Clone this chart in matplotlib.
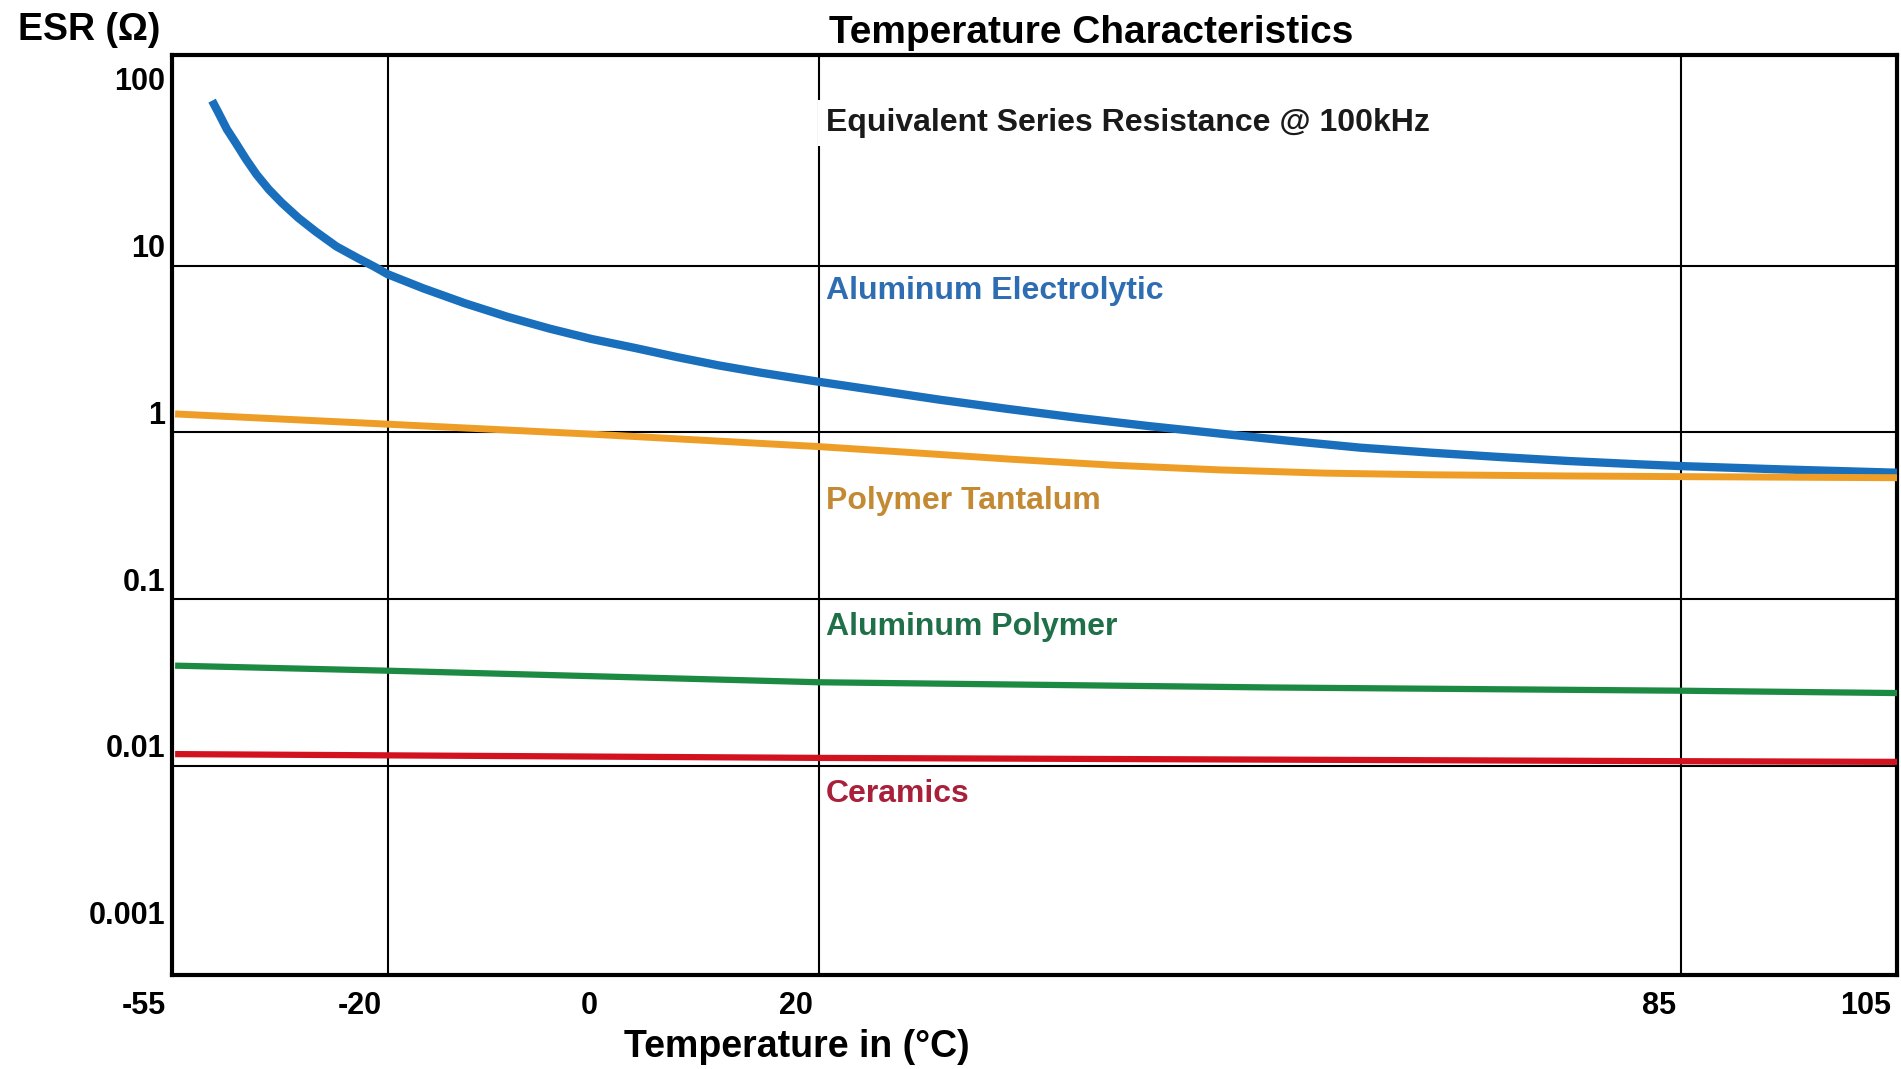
import numpy as np
import matplotlib.pyplot as plt
from matplotlib.transforms import ScaledTranslation

plt.rcParams['font.family'] = ['Liberation Sans', 'DejaVu Sans']

fig_name = "out.png"

##################### DATA #####################
# temperature axis of the original is piecewise: -55..20 evenly, 20..85 stretched
scale_temps = [-55, -20, 0, 20, 85, 105]
scale_steps = [0, 1, 2, 3, 7, 8]

x_ticks = [-55, -20, 0, 20, 85, 105]
x_ticklabels = ['-55', '-20', '0', '20', '85', '105']
y_ticks = [100, 10, 1, 0.1, 0.01, 0.001]
y_ticklabels = ['100', '10', '1', '0.1', '0.01', '0.001']
x_grid = [-20, 20, 85]
y_grid = [10, 1, 0.1, 0.01]

al_elec_temp = [-48.5, -47.5, -46.1, -44.7, -43.0, -41.3, -39.3, -37.2, -34.5, -31.7, -28.3,
                -24.9, -22.2, -20, -16.7, -12.8, -8.9, -5.0, -1.1, 2.9, 6.8, 10.7, 14.6, 20,
                29.1, 34.3, 39.6, 44.9, 50.2, 55.5, 60.8, 66.1, 71.3, 76.6, 81.9, 85, 94.3, 105]
al_elec_esr = [97.3, 82.8, 65.6, 54.6, 43.4, 35.2, 28.6, 23.8, 19.3, 16.0, 13.0,
               11.1, 9.86, 8.87, 7.30, 5.93, 4.93, 4.19, 3.63, 3.21, 2.83, 2.52, 2.28, 2.01,
               1.57, 1.38, 1.22, 1.09, 0.984, 0.889, 0.810, 0.756, 0.712, 0.673, 0.643, 0.628,
               0.600, 0.573]

tantalum_temp = [-54.5, -20, -1, 20, 26.4, 34.3, 42.3, 50.2, 58.1, 66.1, 76.6, 85, 105]
tantalum_esr = [1.29, 1.12, 0.975, 0.822, 0.762, 0.692, 0.635, 0.596, 0.570, 0.557, 0.548,
                0.543, 0.535]

al_poly_temp = [-54.5, -20, 20, 54, 85, 105]
al_poly_esr = [0.040, 0.0373, 0.0318, 0.0296, 0.0283, 0.0274]

ceramic_temp = [-54.5, 20, 85, 105]
ceramic_esr = [0.0118, 0.0112, 0.0107, 0.0106]

series_labels = ['Aluminum Electrolytic', 'Polymer Tantalum', 'Aluminum Polymer', 'Ceramics']

########################### PLOT CONFIGURATION ###########################
fig = plt.figure(figsize=(19.01, 10.69), dpi=100)
ax = fig.add_axes([0.0905, 0.0884, 0.9074, 0.8605])

fwd = lambda t: np.interp(t, scale_temps, scale_steps)
inv = lambda s: np.interp(s, scale_steps, scale_temps)
ax.set_xscale('function', functions=(fwd, inv))
ax.set_yscale('log')
ax.set_xlim(-55, 105)
ax.set_ylim(10**-3.249, 10**2.264)

for g in x_grid:
    ax.axvline(g, color='black', lw=1.5, zorder=1)
for g in y_grid:
    ax.axhline(g, color='black', lw=1.5, zorder=1)

ax.plot(al_elec_temp, al_elec_esr, color='#1a6fbd', lw=6, solid_capstyle='butt',
        solid_joinstyle='round', zorder=3)
ax.plot(tantalum_temp, tantalum_esr, color='#ee9e26', lw=5, solid_capstyle='butt',
        solid_joinstyle='round', zorder=3)
ax.plot(al_poly_temp, al_poly_esr, color='#1d8a43', lw=4.5, solid_capstyle='butt', zorder=3)
ax.plot(ceramic_temp, ceramic_esr, color='#d3121f', lw=4.5, solid_capstyle='butt', zorder=3)

for sp in ax.spines.values():
    sp.set_linewidth(3)

#X-AXIS
ax.set_xticks(x_ticks)
ax.set_xticklabels(x_ticklabels)
ax.xaxis.set_minor_locator(plt.NullLocator())
ax.tick_params(axis='x', length=0, pad=12, labelsize=22)
for lbl in ax.get_xticklabels():
    lbl.set_fontweight('bold')
    lbl.set_horizontalalignment('right')
    lbl.set_transform(lbl.get_transform() + ScaledTranslation(-4/72, 0, fig.dpi_scale_trans))

#Y-AXIS
ax.set_yticks(y_ticks)
ax.set_yticklabels(y_ticklabels)
ax.yaxis.set_minor_locator(plt.NullLocator())
ax.tick_params(axis='y', length=0, pad=5, labelsize=22)
for lbl in ax.get_yticklabels():
    lbl.set_fontweight('bold')
    lbl.set_transform(lbl.get_transform() + ScaledTranslation(0, 14.5/72, fig.dpi_scale_trans))

############################ TEXTS ############################
fig.text(0.574, 0.9598, 'Temperature Characteristics', ha='center', va='baseline',
         fontsize=28, fontweight='bold')
fig.text(0.0095, 0.9626, 'ESR (Ω)', ha='left', va='baseline', fontsize=27, fontweight='bold')
fig.text(0.419, 0.011, 'Temperature in (°C)', ha='center', va='baseline',
         fontsize=27, fontweight='bold')

ax.annotate('Equivalent Series Resistance @ 100kHz', xy=(20, 0.917),
            xycoords=('data', 'axes fraction'), xytext=(5, 0), textcoords='offset points',
            va='baseline', fontsize=23, fontweight='bold', color='#1a1a1a', zorder=4,
            bbox=dict(facecolor='white', edgecolor='none', pad=6))

label_y = [0.734, 0.506, 0.369, 0.188]
label_colors = ['#2f6db3', '#c48a33', '#1f7048', '#a8203a']
for txt, yy, cc in zip(series_labels, label_y, label_colors):
    ax.annotate(txt, xy=(20, yy), xycoords=('data', 'axes fraction'), xytext=(5, 0),
                textcoords='offset points', va='baseline', fontsize=23,
                fontweight='bold', color=cc, zorder=4)

fig.savefig(fig_name, dpi=100, facecolor='w')
